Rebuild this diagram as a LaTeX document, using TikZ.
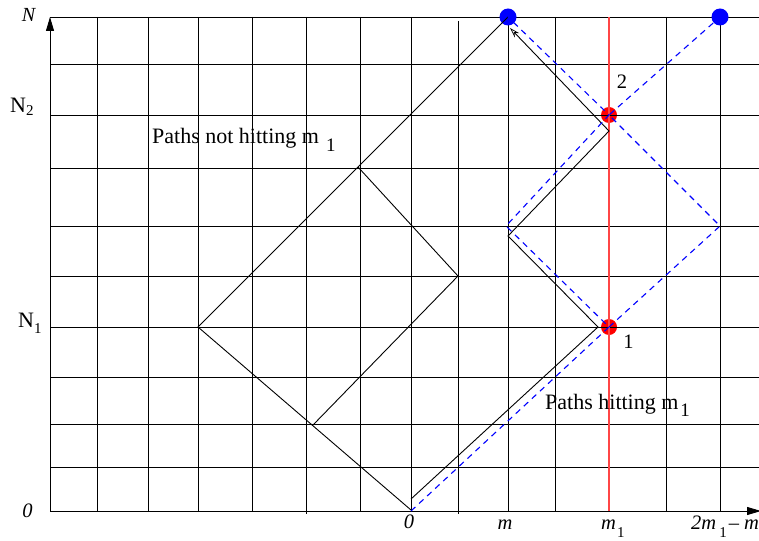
\documentclass[tikz,border=0pt]{standalone}
\usepackage{fontspec}
\setmainfont{Liberation Serif}
\usetikzlibrary{arrows.meta}
\newcommand{\lowsub}[2]{\raisebox{-#1}{\fontsize{15}{15}\selectfont #2}}
\begin{document}
\begin{tikzpicture}[x=1pt,y=-1pt,
  gridline/.style={black,line width=0.9pt},
  axisline/.style={black,line width=0.9pt,-{Triangle[length=14pt,width=8pt]}},
  pathline/.style={black,line width=0.9pt},
  mline/.style={color={rgb,255:red,255;green,70;blue,70},line width=1.2pt},
  refl/.style={blue,line width=1.1pt,dash pattern=on 6pt off 5pt},
  lbl/.style={inner sep=0pt,font=\fontsize{20.5}{20.5}\selectfont},
  biglbl/.style={inner sep=0pt,font=\fontsize{22}{22}\selectfont},
  reddot/.style={fill=red,draw=none},
  bluedot/.style={fill=blue,draw=none}
]
\useasboundingbox (0,0) rectangle (759,540);
\fill[white] (0,0) rectangle (759,540);

% red dots (beneath lines)
\coordinate (H1) at (609,327);
\coordinate (H2) at (609,115);
\fill[reddot] (H1) circle (8);
\fill[reddot] (H2) circle (8);

% grid: horizontal lines
\foreach \yy in {17,64,115,168,226,276,327,377,424,467}
  \draw[gridline] (50,\yy) -- (759,\yy);
% grid: vertical lines
\foreach \xx in {97,148,198,252,360,411,508,555,666,720}
  \draw[gridline] (\xx,17) -- (\xx,511);
\draw[gridline] (306,17) -- (306,514);
\draw[gridline] (458,21) -- (458,514);

% red line m1
\coordinate (Mtop) at (609,17);
\coordinate (Mbot) at (609,511);
\draw[mline] (Mtop) -- (Mbot);

% axes
\coordinate (Org) at (50,511);
\coordinate (Ytip) at (50,17);
\coordinate (Xtip) at (761,511);
\draw[axisline] (Org) -- (Ytip);
\draw[axisline] (Org) -- (Xtip);

% blue dots
\coordinate (E1) at (508,17);
\coordinate (E2) at (720,17);
\fill[bluedot] (E1) circle (8.5);
\fill[bluedot] (E2) circle (8.5);

% black paths not hitting m1
\coordinate (Z) at (411,510);
\coordinate (L1) at (198,327);
\coordinate (Q1) at (313,425);
\coordinate (Q2) at (458,276);
\coordinate (Q3) at (358,167);
\draw[pathline] (Z) -- (L1) -- (E1);
\draw[pathline] (Q1) -- (Q2) -- (Q3);

% black path hitting m1
\coordinate (Z2) at (411,499);
\coordinate (R1) at (598,327);
\coordinate (R2) at (508,236);
\coordinate (R3) at (609,131);
\coordinate (R4) at (510,28);
\draw[pathline,-{Stealth[open,length=10pt,width=6pt,line width=0.7pt]}]
  (Z2) -- (R1) -- (R2) -- (R3) -- (R4);

% blue dashed paths
\coordinate (Z0) at (411,511);
\coordinate (B1) at (506,226);
\coordinate (C1) at (720,226);
\draw[refl] (Z0) -- (H1) -- (B1) -- (H2) -- (E1);
\draw[refl] (H1) -- (C1) -- (H2) -- (E2);

% labels
\node[lbl,font=\fontsize{20}{20}\selectfont\itshape] (lN) at (28.5,14.5) {N};
\node[biglbl,anchor=base west] (lN2) at (10,113) {N\lowsub{3pt}{2}};
\node[biglbl,anchor=base west] (lN1) at (18,327) {N\lowsub{6pt}{1}};
\node[lbl,font=\fontsize{20.5}{20.5}\selectfont\itshape] (l0) at (27.5,511) {0};
\node[lbl,font=\fontsize{20.5}{20.5}\selectfont\itshape] (b0) at (409,522) {0};
\node[lbl,anchor=base] (bm) at (505,529) {\textit{m}};
\node[lbl,anchor=base west] (bm1) at (601,529) {\textit{m}\hspace{1pt}\lowsub{8pt}{1}};
\node[lbl,anchor=base west] (b2m) at (691,529) {\textit{2m}\hspace{3pt}\lowsub{8pt}{1}\hspace{2pt}\textit{–}\hspace{5pt}\textit{m}};
\node[lbl] (t2) at (622,82) {2};
\node[lbl] (t1) at (628.5,342) {1};
\node[biglbl,anchor=base west] (pn) at (152,143) {Paths not hitting m\hspace{7pt}\raisebox{-8pt}{\fontsize{19}{19}\selectfont 1}};
\node[biglbl,anchor=base west] (ph) at (545,409) {Paths hitting m\hspace{2pt}\raisebox{-7pt}{\fontsize{19}{19}\selectfont 1}};
\end{tikzpicture}
\end{document}
